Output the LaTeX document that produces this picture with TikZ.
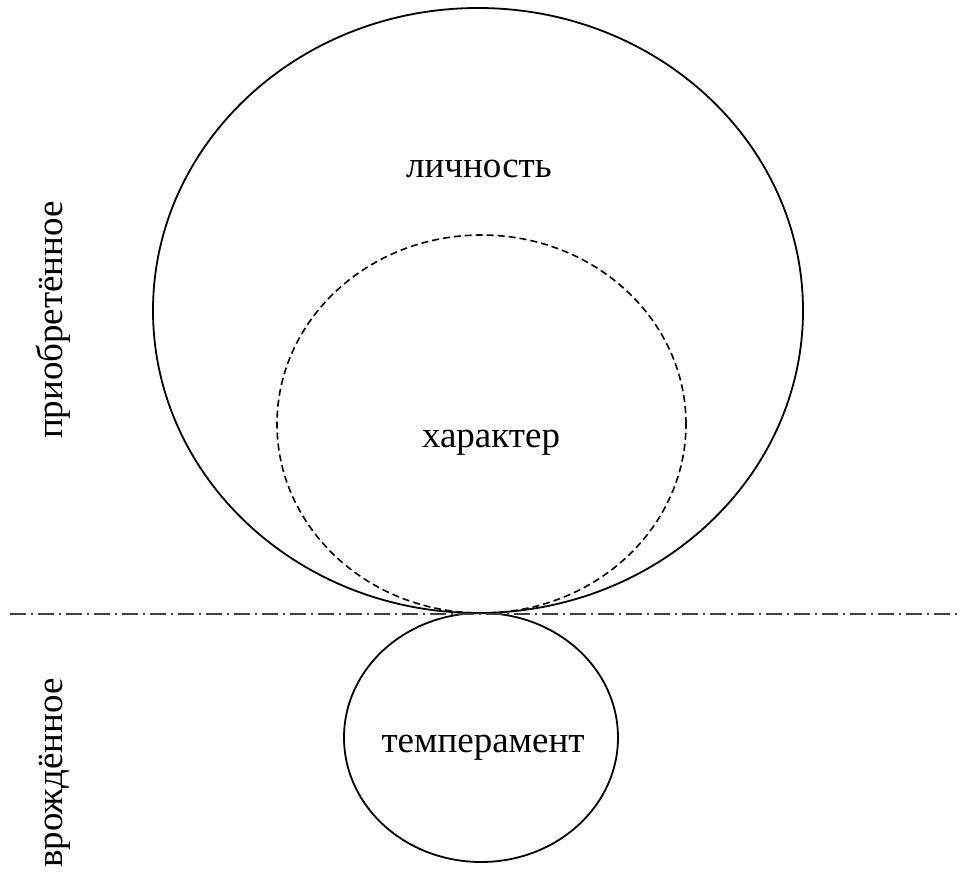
\documentclass[tikz,border=0pt]{standalone}
\usepackage{fontspec}
\setmainfont{Liberation Serif}
\usetikzlibrary{shapes.geometric}
\begin{document}
\begin{tikzpicture}[x=1pt,y=-1pt,
  lbl/.style={inner sep=0pt,anchor=base,font=\fontsize{37}{41}\selectfont},
  ring/.style={draw=black,line width=1.8pt,ellipse,inner sep=0pt},
  dashring/.style={draw=black,line width=1.6pt,dash pattern=on 7pt off 4pt},
  axis/.style={draw=black!75,line width=2.4pt,dash pattern=on 16pt off 5pt on 2pt off 5pt}]
\useasboundingbox (0,0) rectangle (962,872);
\node[ring,minimum width=650pt,minimum height=605pt] (big) at (478,310.5) {};
\path[dashring] (481.5,424) ellipse [x radius=204.5pt,y radius=189pt];
\node[ring,minimum width=274pt,minimum height=249pt] (small) at (481,737.5) {};
\coordinate (l0) at (10,614);
\coordinate (l1) at (962,614);
\draw[axis] (l0) -- (l1);
\node[lbl] (lich) at (479,178) {личность};
\node[lbl] (har) at (491,447) {характер};
\node[lbl] (temp) at (483,752) {темперамент};
\node[lbl,rotate=90] (prio) at (62,320) {приобретённое};
\node[lbl,rotate=90] (vrozh) at (62,773) {врождённое};
\end{tikzpicture}
\end{document}
